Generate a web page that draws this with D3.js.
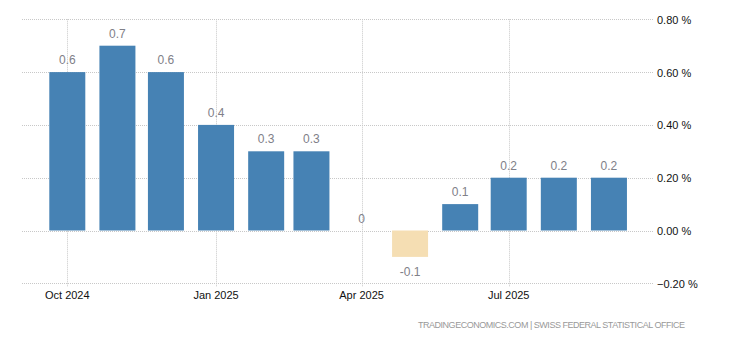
<!DOCTYPE html>
<html>
<head>
<meta charset="utf-8">
<script src="https://cdn.jsdelivr.net/npm/d3@7"></script>
<style>
	body { margin: 0; background: #fff; }
	svg { display: block; font-family: 'Liberation Sans', Arial, sans-serif; }
</style>
</head>
<body>
<div id="chart"></div>
<script>
// Swiss inflation rate, month over month (%)
const months = ['2024-10', '2024-11', '2024-12', '2025-01', '2025-02', '2025-03',
	'2025-04', '2025-05', '2025-06', '2025-07', '2025-08', '2025-09'];
const values = [0.6, 0.7, 0.6, 0.4, 0.3, 0.3, 0, -0.1, 0.1, 0.2, 0.2, 0.2];
const yTicks = [-0.2, 0, 0.2, 0.4, 0.6, 0.8];
const xTicks = ['2024-10', '2025-01', '2025-04', '2025-07'];
const source = 'TRADINGECONOMICS.COM  |  SWISS FEDERAL STATISTICAL OFFICE';

const width = 730, height = 340;
const plotLeft = 22, plotRight = 653;
const parse = d3.timeParse('%Y-%m');

const data = months.map((m, i) => ({ date: parse(m), value: values[i] }));

const svg = d3.select('#chart')
	.append('svg')
	.attr('width', width)
	.attr('height', height);

// x: time scale anchored on two month ticks
const x = d3.scaleTime()
	.domain([parse('2024-10'), parse('2025-07')])
	.range([67.3, 508.7]);

const y = d3.scaleLinear()
	.domain([-0.2, 0.8])
	.range([283.3, 19.3]);

// Horizontal grid lines
svg.append('g')
	.selectAll('line')
	.data(yTicks)
	.enter()
	.append('line')
	.attr('x1', plotLeft)
	.attr('x2', plotRight)
	.attr('y1', (d) => Math.round(y(d)) + 0.5)
	.attr('y2', (d) => Math.round(y(d)) + 0.5)
	.attr('stroke', '#c8c8c8')
	.attr('stroke-dasharray', '1,1');

// Vertical grid lines
svg.append('g')
	.selectAll('line')
	.data(xTicks)
	.enter()
	.append('line')
	.attr('x1', (d) => Math.round(x(parse(d))) + 0.5)
	.attr('x2', (d) => Math.round(x(parse(d))) + 0.5)
	.attr('y1', y(0.8))
	.attr('y2', y(-0.2) + 4)
	.attr('stroke', '#c8c8c8')
	.attr('stroke-dasharray', '1,1');

// Bars
const barWidth = 36;
svg.append('g')
	.selectAll('rect')
	.data(data.filter((d) => d.value !== 0))
	.enter()
	.append('rect')
	.attr('x', (d) => x(d.date) - barWidth / 2)
	.attr('width', barWidth)
	.attr('y', (d) => y(Math.max(0, d.value)))
	.attr('height', (d) => Math.abs(y(d.value) - y(0)))
	.attr('fill', (d) => (d.value < 0 ? '#f5deb3' : '#4682b4'));

// Value labels
svg.append('g')
	.selectAll('text')
	.data(data)
	.enter()
	.append('text')
	.attr('x', (d) => x(d.date))
	.attr('y', (d) => (d.value < 0 ? y(d.value) + 19 : y(d.value) - 8))
	.attr('text-anchor', 'middle')
	.attr('fill', '#808088')
	.style('font-size', '12px')
	.text((d) => d.value);

// Right axis labels
svg.append('g')
	.selectAll('text')
	.data(yTicks)
	.enter()
	.append('text')
	.attr('x', 657)
	.attr('y', (d) => y(d) + 4.5)
	.attr('fill', '#111')
	.style('font-size', '11px')
	.text((d) => d3.format('.2f')(d) + ' %');

// Bottom axis labels
svg.append('g')
	.selectAll('text')
	.data(xTicks)
	.enter()
	.append('text')
	.attr('x', (d) => x(parse(d)))
	.attr('y', 299)
	.attr('text-anchor', 'middle')
	.attr('fill', '#111')
	.style('font-size', '11px')
	.text((d) => d3.timeFormat('%b %Y')(parse(d)));

// Source
svg.append('text')
	.attr('x', 685)
	.attr('y', 328)
	.attr('text-anchor', 'end')
	.attr('fill', '#999')
	.style('font-size', '9px')
	.attr('textLength', 267)
	.attr('lengthAdjust', 'spacing')
	.text(source);
</script>
</body>
</html>
